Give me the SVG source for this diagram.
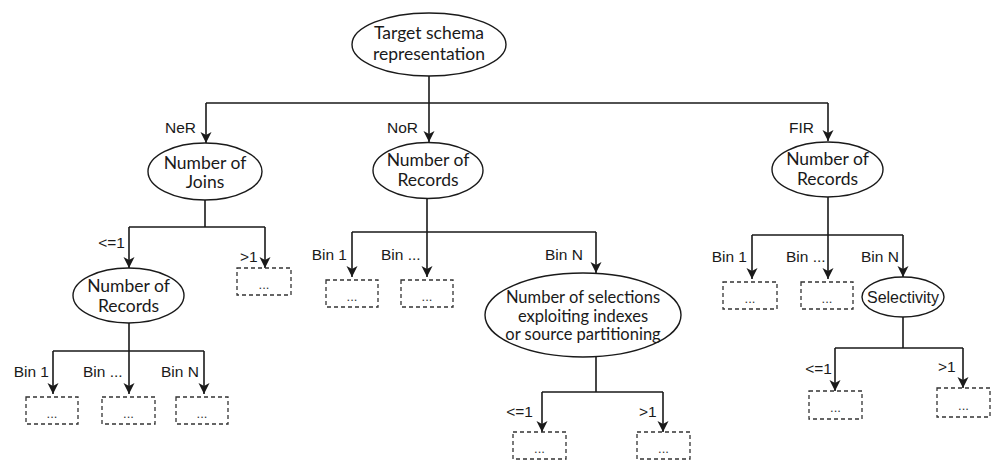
<svg xmlns="http://www.w3.org/2000/svg" width="993" height="463" viewBox="0 0 993 463">
  <style>
    .node ellipse { fill: #ffffff; stroke: #1a1a1a; stroke-width: 1.4; }
    .node text { font-family: Lato, "Open Sans", sans-serif; font-size: 17.5px; fill: #1a1a1a; text-anchor: middle; }
    .node text.small { font-size: 16.5px; }
    .node text.arial { font-family: "Liberation Sans", Arial, sans-serif; font-size: 16px; }
    .leaf rect { fill: #ffffff; stroke: #333333; stroke-width: 1.3; stroke-dasharray: 4 3; }
    .leaf text { font-family: "Liberation Sans", Arial, sans-serif; font-size: 13px; fill: #333333; text-anchor: middle; }
    .edges path { fill: none; stroke: #1a1a1a; stroke-width: 1.6; }
    .edges path.arrow { marker-end: url(#head); }
    .lbl { font-family: "Liberation Sans", Arial, sans-serif; font-size: 15.5px; fill: #1a1a1a; }
    .end { text-anchor: end; }
  </style>
  <defs>
    <marker id="head" markerUnits="userSpaceOnUse" markerWidth="12" markerHeight="12" viewBox="0 0 12 12" refX="11" refY="6" orient="auto">
      <path d="M0,0.5 L11,6 L0,11.5 L3,6 z" fill="#1a1a1a"/>
    </marker>
  </defs>

  <rect width="993" height="463" fill="#ffffff"/>

  <!-- connectors -->
  <g class="edges">
    <!-- root split -->
    <path d="M429,76 V103 M206,103 H828"/>
    <path class="arrow" d="M206,103 V143"/>
    <path class="arrow" d="M429,103 V142"/>
    <path class="arrow" d="M828,103 V141"/>
    <!-- number of joins -->
    <path d="M205,200 V227 M129,227 H265"/>
    <path class="arrow" d="M129,227 V268"/>
    <path class="arrow" d="M265,227 V268"/>
    <!-- joins <=1 records -->
    <path d="M129,323 V351 M53,351 H204"/>
    <path class="arrow" d="M53,351 V394"/>
    <path class="arrow" d="M129,351 V394"/>
    <path class="arrow" d="M204,351 V394"/>
    <!-- NoR records -->
    <path d="M427,198 V232 M352,232 H596"/>
    <path class="arrow" d="M352,232 V277"/>
    <path class="arrow" d="M427,232 V277"/>
    <path class="arrow" d="M596,232 V273"/>
    <!-- selections -->
    <path d="M596,357 V392 M542,392 H663"/>
    <path class="arrow" d="M542,392 V432"/>
    <path class="arrow" d="M663,392 V432"/>
    <!-- FIR records -->
    <path d="M828,197 V235 M752,235 H903"/>
    <path class="arrow" d="M752,235 V279"/>
    <path class="arrow" d="M828,235 V279"/>
    <path class="arrow" d="M903,235 V277"/>
    <!-- selectivity -->
    <path d="M903,317 V348 M835,348 H963"/>
    <path class="arrow" d="M835,348 V391"/>
    <path class="arrow" d="M963,348 V388"/>
  </g>

  <!-- edge labels -->
  <g id="edge-labels">
    <text class="lbl" x="165" y="133">NeR</text>
    <text class="lbl" x="387" y="133">NoR</text>
    <text class="lbl" x="789" y="133">FIR</text>
    <text class="lbl end" x="125" y="248">&lt;=1</text>
    <text class="lbl" x="240" y="262">&gt;1</text>
    <text class="lbl end" x="49" y="377">Bin 1</text>
    <text class="lbl" x="83" y="377">Bin ...</text>
    <text class="lbl" x="161" y="377">Bin N</text>
    <text class="lbl end" x="347" y="260">Bin 1</text>
    <text class="lbl" x="381" y="260">Bin ...</text>
    <text class="lbl" x="545" y="260">Bin N</text>
    <text class="lbl end" x="533" y="417">&lt;=1</text>
    <text class="lbl" x="639" y="417">&gt;1</text>
    <text class="lbl end" x="747" y="262">Bin 1</text>
    <text class="lbl" x="786" y="262">Bin ...</text>
    <text class="lbl" x="861" y="262">Bin N</text>
    <text class="lbl end" x="832" y="374">&lt;=1</text>
    <text class="lbl" x="938" y="372">&gt;1</text>
  </g>

  <!-- decision nodes -->
  <g id="root" class="node">
    <ellipse cx="429" cy="44.5" rx="77" ry="31.5"/>
    <text x="429" y="39">Target schema</text>
    <text x="429" y="60">representation</text>
  </g>
  <g id="joins" class="node">
    <ellipse cx="205" cy="171.5" rx="57" ry="28.5"/>
    <text x="205" y="169">Number of</text>
    <text x="205" y="188">Joins</text>
  </g>
  <g id="ner-records" class="node">
    <ellipse cx="128.5" cy="295.5" rx="55.5" ry="27.5"/>
    <text x="128.5" y="292">Number of</text>
    <text x="128.5" y="312">Records</text>
  </g>
  <g id="nor-records" class="node">
    <ellipse cx="428" cy="170.5" rx="55" ry="28"/>
    <text x="428" y="166">Number of</text>
    <text x="428" y="186">Records</text>
  </g>
  <g id="selections" class="node">
    <ellipse cx="583" cy="315" rx="98" ry="42"/>
    <text class="small" x="583" y="303">Number of selections</text>
    <text class="small" x="583" y="321.5">exploiting indexes</text>
    <text class="small" x="583" y="340">or source partitioning</text>
  </g>
  <g id="fir-records" class="node">
    <ellipse cx="827.5" cy="169.5" rx="55.5" ry="27.5"/>
    <text x="827.5" y="165">Number of</text>
    <text x="827.5" y="185">Records</text>
  </g>
  <g id="selectivity" class="node">
    <ellipse cx="903" cy="297" rx="41" ry="20"/>
    <text class="arial" x="903" y="303">Selectivity</text>
  </g>

  <!-- open leaves -->
  <g id="leaf-joins-gt1" class="leaf"><rect x="237" y="268" width="54" height="27"/><text x="264" y="289">...</text></g>
  <g id="leaf-ner-bin1" class="leaf"><rect x="26" y="397" width="52" height="27"/><text x="52" y="418">...</text></g>
  <g id="leaf-ner-binx" class="leaf"><rect x="102" y="397" width="53" height="27"/><text x="128.5" y="418">...</text></g>
  <g id="leaf-ner-binn" class="leaf"><rect x="176" y="397" width="52" height="27"/><text x="202" y="418">...</text></g>
  <g id="leaf-nor-bin1" class="leaf"><rect x="326" y="280" width="52" height="27"/><text x="352" y="301">...</text></g>
  <g id="leaf-nor-binx" class="leaf"><rect x="401" y="280" width="52" height="27"/><text x="427" y="301">...</text></g>
  <g id="leaf-sel-le1" class="leaf"><rect x="513" y="432" width="53" height="27"/><text x="539.5" y="453">...</text></g>
  <g id="leaf-sel-gt1" class="leaf"><rect x="637" y="432" width="53" height="27"/><text x="663.5" y="453">...</text></g>
  <g id="leaf-fir-bin1" class="leaf"><rect x="723" y="282" width="54" height="27"/><text x="750" y="303">...</text></g>
  <g id="leaf-fir-binx" class="leaf"><rect x="801" y="282" width="52" height="27"/><text x="827" y="303">...</text></g>
  <g id="leaf-selv-le1" class="leaf"><rect x="809" y="391" width="53" height="28"/><text x="835.5" y="412">...</text></g>
  <g id="leaf-selv-gt1" class="leaf"><rect x="937" y="388" width="53" height="29"/><text x="963.5" y="410">...</text></g>
</svg>
